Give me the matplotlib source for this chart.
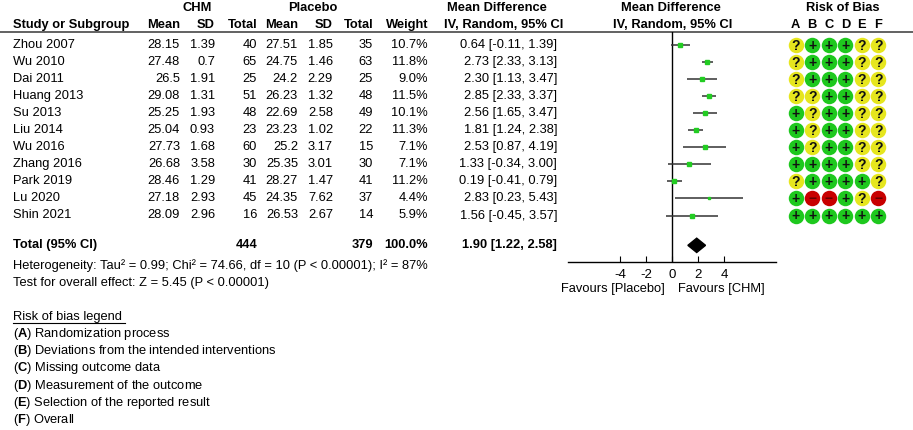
import matplotlib
matplotlib.use('Agg')
from matplotlib import pyplot as plt
import numpy as np

plt.rcParams['font.family'] = ['Liberation Sans', 'DejaVu Sans']
plt.rcParams['font.size'] = 9.25
plt.rcParams['axes.unicode_minus'] = False
plt.rcParams['mathtext.fontset'] = 'custom'
plt.rcParams['mathtext.rm'] = 'Liberation Sans'
plt.rcParams['mathtext.bf'] = 'Liberation Sans:bold'

# data
studies = ['Zhou 2007', 'Wu 2010', 'Dai 2011', 'Huang 2013', 'Su 2013', 'Liu 2014',
           'Wu 2016', 'Zhang 2016', 'Park 2019', 'Lu 2020', 'Shin 2021']
chm_mean = ['28.15', '27.48', '26.5', '29.08', '25.25', '25.04', '27.73', '26.68', '28.46', '27.18', '28.09']
chm_sd = ['1.39', '0.7', '1.91', '1.31', '1.93', '0.93', '1.68', '3.58', '1.29', '2.93', '2.96']
chm_n = [40, 65, 25, 51, 48, 23, 60, 30, 41, 45, 16]
pla_mean = ['27.51', '24.75', '24.2', '26.23', '22.69', '23.23', '25.2', '25.35', '28.27', '24.35', '26.53']
pla_sd = ['1.85', '1.46', '2.29', '1.32', '2.58', '1.02', '3.17', '3.01', '1.47', '7.62', '2.67']
pla_n = [35, 63, 25, 48, 49, 22, 15, 30, 41, 37, 14]
weight = [10.7, 11.8, 9.0, 11.5, 10.1, 11.3, 7.1, 7.1, 11.2, 4.4, 5.9]
md = [0.64, 2.73, 2.30, 2.85, 2.56, 1.81, 2.53, 1.33, 0.19, 2.83, 1.56]
lo = [-0.11, 2.33, 1.13, 2.33, 1.65, 1.24, 0.87, -0.34, -0.41, 0.23, -0.45]
hi = [1.39, 3.13, 3.47, 3.37, 3.47, 2.38, 4.19, 3.00, 0.79, 5.43, 3.57]
total_md, total_lo, total_hi = 1.90, 1.22, 2.58
rob = ['?+++??', '?+++??', '?+++??', '??++??', '+?++??', '+?++??',
       '+?++??', '++++??', '?++++?', '+--+?-', '++++++']
rob_domains = ['A', 'B', 'C', 'D', 'E', 'F']
rob_legend = ['Randomization process', 'Deviations from the intended interventions',
              'Missing outcome data', 'Measurement of the outcome',
              'Selection of the reported result', 'Overall']

W, H = 913, 430
fig = plt.figure(figsize=(W / 100, H / 100), dpi=100)
ax = fig.add_axes([0, 0, 1, 1])
ax.set_xlim(0, W)
ax.set_ylim(H, 0)
ax.axis('off')

y0, dy = 45, 17.05
top, bot = 32, 262


def ypix(i):
    return y0 + dy * i


# headers
ax.text(197, 8, 'CHM', ha='center', va='center', fontweight='bold')
ax.text(313, 8, 'Placebo', ha='center', va='center', fontweight='bold')
ax.text(497, 8, 'Mean Difference', ha='center', va='center', fontweight='bold')
ax.text(504, 25, 'IV, Random, 95% CI', ha='center', va='center', fontweight='bold')
ax.text(671, 8, 'Mean Difference', ha='center', va='center', fontweight='bold')
ax.text(673, 25, 'IV, Random, 95% CI', ha='center', va='center', fontweight='bold')
ax.text(843, 8, 'Risk of Bias', ha='center', va='center', fontweight='bold')
ax.text(13, 25, 'Study or Subgroup', ha='left', va='center', fontweight='bold')
cols = [180, 215, 257, 298, 333, 373, 428]
for x, h in zip(cols, ['Mean', 'SD', 'Total', 'Mean', 'SD', 'Total', 'Weight']):
    ax.text(x, 25, h, ha='right', va='center', fontweight='bold')
ax.plot([0, W], [top, top], color='#555555', lw=1.3)

for i, s in enumerate(studies):
    y = ypix(i)
    ax.text(13, y, s, ha='left', va='center')
    vals = [chm_mean[i], chm_sd[i], str(chm_n[i]), pla_mean[i], pla_sd[i],
            str(pla_n[i]), '%.1f%%' % weight[i]]
    for x, v in zip(cols, vals):
        ax.text(x, y, v, ha='right', va='center')
    ax.text(557, y, '%.2f [%.2f, %.2f]' % (md[i], lo[i], hi[i]), ha='right', va='center')

yt = ypix(11.75)
ax.text(13, yt, 'Total (95% CI)', ha='left', va='center', fontweight='bold')
ax.text(257, yt, str(sum(chm_n)), ha='right', va='center', fontweight='bold')
ax.text(373, yt, str(sum(pla_n)), ha='right', va='center', fontweight='bold')
ax.text(428, yt, '100.0%', ha='right', va='center', fontweight='bold')
ax.text(557, yt, '%.2f [%.2f, %.2f]' % (total_md, total_lo, total_hi),
        ha='right', va='center', fontweight='bold')
ax.text(13, 265.5, 'Heterogeneity: Tau² = 0.99; Chi² = 74.66, df = 10 (P < 0.00001); I² = 87%',
        ha='left', va='center')
ax.text(13, 283, 'Test for overall effect: Z = 5.45 (P < 0.00001)', ha='left', va='center')

# risk of bias legend
ax.text(13, 317, 'Risk of bias legend ', ha='left', va='center')
ax.plot([13, 125], [322.5, 322.5], color='black', lw=0.8)
for k, (d, t) in enumerate(zip(rob_domains, rob_legend)):
    ax.text(13, 334 + 17.2 * k, r'($\mathbf{%s}$) %s' % (d, t), ha='left', va='center')

# forest plot
ylo = (bot - y0) / dy
yhi = (top - y0) / dy
axf = fig.add_axes([568 / W, 1 - bot / H, 208 / W, (bot - top) / H])
axf.set_xlim(-8, 8)
axf.set_ylim(ylo, yhi)
axf.patch.set_alpha(0)
for sp in ['top', 'right', 'left']:
    axf.spines[sp].set_visible(False)
axf.spines['bottom'].set_linewidth(1.0)
axf.axvline(0, color='black', lw=1.0)
axf.set_yticks([])
axf.set_xticks([-4, -2, 0, 2, 4])
axf.tick_params(axis='x', direction='in', length=4, pad=5, labelsize=9.5)
rows = np.arange(len(studies))
axf.hlines(rows, lo, hi, color='#333333', lw=1.1)
for i in rows:
    axf.plot(md[i], i, 's', color='#22cc22', mec='#22cc22', ms=1.0 + 0.22 * weight[i])
yd = 11.75
axf.fill([total_lo, total_md, total_hi, total_md], [yd, yd - 0.42, yd, yd + 0.42],
         color='black')
ax.text(665, 289, 'Favours [Placebo]', ha='right', va='center')
ax.text(678, 289, 'Favours [CHM]', ha='left', va='center')

# risk of bias circles
colors = {'+': '#1ec81e', '?': '#e6e61e', '-': '#c80000'}
symbols = {'+': '+', '?': '?', '-': '\u2212'}
axr = fig.add_axes([787.4 / W, 1 - bot / H, 99.2 / W, (bot - top) / H])
axr.set_xlim(-0.5, 5.5)
axr.set_ylim(ylo, yhi)
axr.axis('off')
for j, d in enumerate(rob_domains):
    ax.text(795.7 + 16.52 * j, 25, d, ha='center', va='center', fontweight='bold')
for i, r in enumerate(rob):
    for j, c in enumerate(r):
        axr.scatter(j, i, s=124, color=colors[c], linewidths=0)
        axr.text(j, i + 0.03, symbols[c], ha='center', va='center', fontsize=10,
                 fontweight='bold', color='#111111' if c != '-' else '#660000')

fig.savefig('out.png', dpi=100)
